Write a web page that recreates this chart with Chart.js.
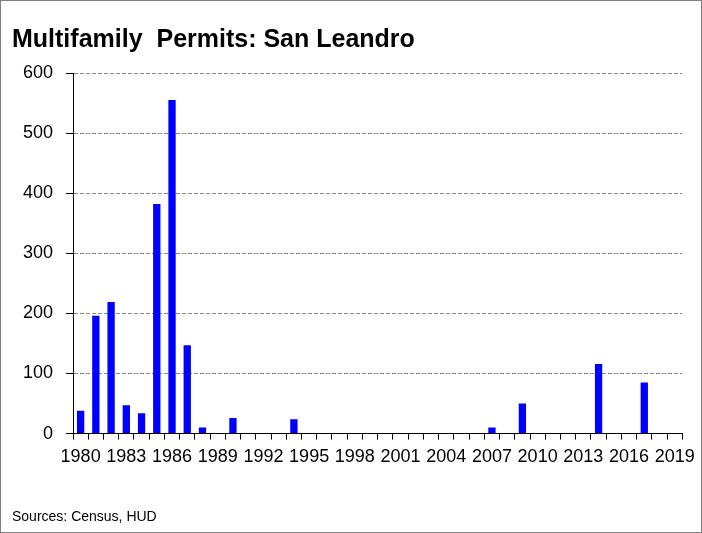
<!DOCTYPE html>
<html lang="en">
<head>
    <meta charset="UTF-8">
    <title>Multifamily Permits: San Leandro</title>
    <script src="https://cdn.jsdelivr.net/npm/chart.js"></script>
    <style>
        body {
            margin: 0;
            padding: 0;
            background: #fff;
        }
        canvas {
            display: block;
        }
    </style>
</head>
<body>
    <canvas id="permitChart" width="702" height="533"></canvas>

    <script>
        const years = ['1980', '1981', '1982', '1983', '1984', '1985', '1986', '1987', '1988', '1989',
                       '1990', '1991', '1992', '1993', '1994', '1995', '1996', '1997', '1998', '1999',
                       '2000', '2001', '2002', '2003', '2004', '2005', '2006', '2007', '2008', '2009',
                       '2010', '2011', '2012', '2013', '2014', '2015', '2016', '2017', '2018', '2019'];
        const permits = [38, 196, 219, 47, 34, 382, 555, 147, 10, 0,
                         26, 0, 0, 0, 24, 0, 0, 0, 0, 0,
                         0, 0, 0, 0, 0, 0, 0, 10, 0, 50,
                         0, 0, 0, 0, 116, 0, 0, 85, 0, 0];
        const yTicks = [0, 100, 200, 300, 400, 500, 600];

        const fontFamily = "'Liberation Sans Narrow', 'Liberation Sans', Arial, sans-serif";
        Chart.defaults.font.family = fontFamily;
        Chart.defaults.color = '#000';

        // grey frame round the whole picture
        const framePlugin = {
            id: 'frame',
            afterDraw(chart) {
                const ctx = chart.ctx;
                ctx.save();
                ctx.strokeStyle = '#7f7f7f';
                ctx.lineWidth = 1;
                ctx.strokeRect(0.5, 0.5, chart.width - 1, chart.height - 1);
                ctx.restore();
            }
        };

        const ctx = document.getElementById('permitChart').getContext('2d');
        const permitChart = new Chart(ctx, {
            type: 'bar',
            data: {
                labels: years,
                datasets: [{
                    label: 'Multifamily permits',
                    data: permits,
                    backgroundColor: '#0000ff',
                    barPercentage: 0.48,
                    categoryPercentage: 1
                }]
            },
            options: {
                responsive: false,
                animation: false,
                layout: { padding: { left: 12, right: 19, top: 0, bottom: 0 } },
                plugins: {
                    legend: { display: false },
                    tooltip: { enabled: false },
                    title: {
                        display: true,
                        text: 'Multifamily  Permits: San Leandro',
                        align: 'start',
                        color: '#000',
                        font: { size: 25, weight: 'bold' },
                        padding: { top: 25, bottom: 18 }
                    },
                    subtitle: {
                        display: true,
                        text: 'Sources: Census, HUD',
                        position: 'bottom',
                        align: 'start',
                        color: '#000',
                        font: { size: 14 },
                        padding: { top: 34, bottom: 7 }
                    }
                },
                scales: {
                    x: {
                        offset: true,
                        grid: {
                            offset: true,
                            drawOnChartArea: false,
                            tickLength: 6,
                            color: '#000'
                        },
                        border: { color: '#000', width: 1 },
                        ticks: {
                            autoSkip: false,
                            maxRotation: 0,
                            minRotation: 0,
                            padding: 7,
                            font: { size: 18 },
                            callback: function (val, idx) {
                                return idx % 3 === 0 ? years[idx] : '';
                            }
                        }
                    },
                    y: {
                        min: 0,
                        max: 600,
                        afterBuildTicks: function (scale) {
                            scale.ticks = yTicks.map(v => ({ value: v }));
                        },
                        afterFit: function (scale) {
                            scale.width = 61;
                        },
                        grid: {
                            color: c => (c.tick && c.tick.value === 0) ? 'rgba(0,0,0,0)' : '#8c8c8c',
                            tickColor: '#000',
                            tickLength: 7
                        },
                        border: { color: '#000', width: 1, dash: [4, 2] },
                        ticks: {
                            padding: 13,
                            font: { size: 18 }
                        }
                    }
                }
            },
            plugins: [framePlugin]
        });
    </script>
</body>
</html>
